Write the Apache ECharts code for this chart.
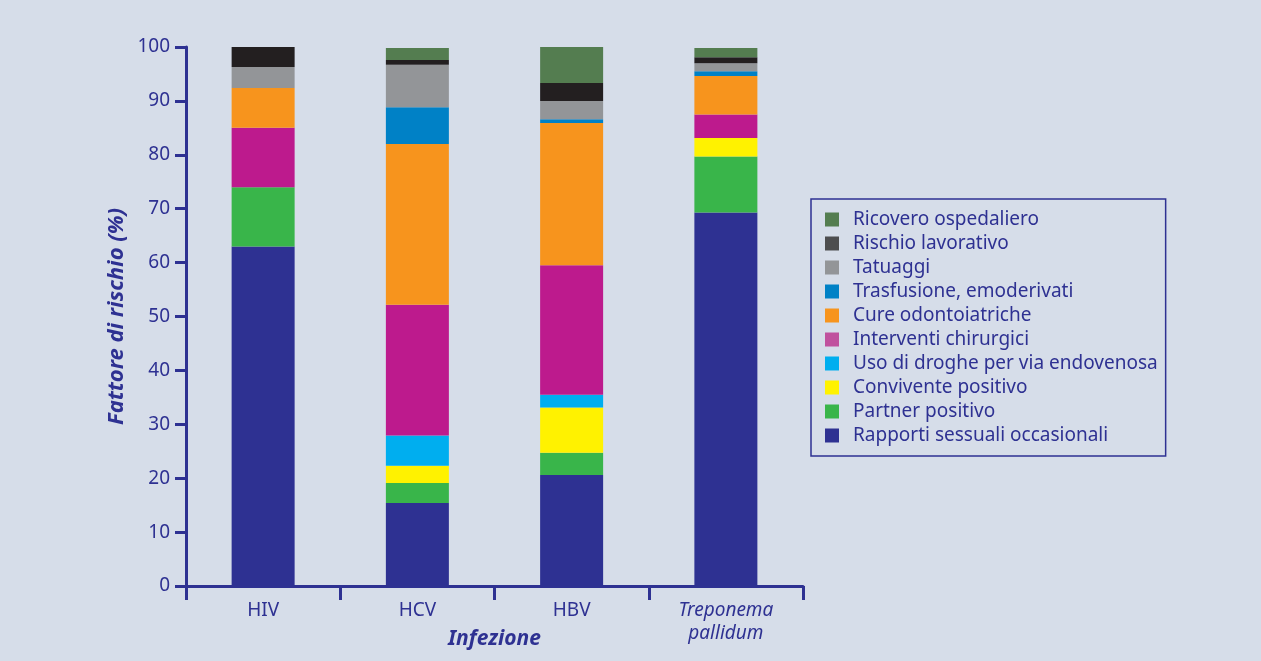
<!DOCTYPE html>
<html>
<head>
<meta charset="utf-8">
<script src="https://cdn.jsdelivr.net/npm/echarts@6/dist/echarts.min.js"></script>
<style>
  html, body { margin: 0; padding: 0; background: #d6dde9; }
  #chart { width: 1261px; height: 661px; }
</style>
</head>
<body>
<div id="chart"></div>
<script>
// Infections and their risk factors (%)
const categories = ['HIV', 'HCV', 'HBV', 'Treponema pallidum'];

const rapportiSessuali   = [63.0, 15.4, 20.6, 69.3];
const partnerPositivo    = [11.0,  3.7,  4.1, 10.4];
const conviventePositivo = [ 0.0,  3.2,  8.4,  3.4];
const drogheEndovena     = [ 0.0,  5.6,  2.4,  0.0];
const interventiChir     = [11.0, 24.3, 24.0,  4.4];
const cureOdontoiatriche = [ 7.4, 29.8, 26.4,  7.1];
const trasfusione        = [ 0.0,  6.8,  0.7,  0.9];
const tatuaggi           = [ 3.9,  7.9,  3.4,  1.5];
const rischioLavorativo  = [ 3.7,  0.9,  3.3,  1.1];
const ricoveroOspedale   = [ 0.0,  2.2,  6.7,  1.7];

const yTicks = { min: 0, max: 100, interval: 10 };

const ink = '#2e3192';

const seriesDefs = [
  { name: 'Rapporti sessuali occasionali', data: rapportiSessuali, color: '#2e3192' },
  { name: 'Partner positivo', data: partnerPositivo, color: '#39b54a' },
  { name: 'Convivente positivo', data: conviventePositivo, color: '#fff200' },
  { name: 'Uso di droghe per via endovenosa', data: drogheEndovena, color: '#00aeef' },
  { name: 'Interventi chirurgici', data: interventiChir, color: '#bd1a8d', legendColor: '#c0519e' },
  { name: 'Cure odontoiatriche', data: cureOdontoiatriche, color: '#f7941d' },
  { name: 'Trasfusione, emoderivati', data: trasfusione, color: '#0081c6' },
  { name: 'Tatuaggi', data: tatuaggi, color: '#939598' },
  { name: 'Rischio lavorativo', data: rischioLavorativo, color: '#231f20', legendColor: '#4d4d4f' },
  { name: 'Ricovero ospedaliero', data: ricoveroOspedale, color: '#547d50' }
];

const chart = echarts.init(document.getElementById('chart'), null, { renderer: 'canvas' });

chart.setOption({
  backgroundColor: '#d6dde9',
  animation: false,
  textStyle: { fontFamily: 'Noto Sans' },
  grid: { left: 186, right: 458, top: 47, bottom: 75, containLabel: false, outerBoundsMode: 'none' },
  legend: {
    orient: 'vertical',
    left: 811,
    top: 199,
    padding: [11, 8, 11, 14],
    borderColor: ink,
    borderWidth: 1.5,
    itemWidth: 14,
    itemHeight: 14,
    itemGap: 5,
    icon: 'rect',
    textStyle: { color: ink, fontSize: 19, fontFamily: 'Noto Sans', padding: [0, 0, 0, 9] },
    data: seriesDefs.slice().reverse().map(s => ({
      name: s.name,
      itemStyle: { color: s.legendColor || s.color }
    }))
  },
  xAxis: {
    type: 'category',
    data: categories,
    name: 'Infezione',
    nameLocation: 'middle',
    nameGap: 43,
    nameMoveOverlap: false,
    nameTextStyle: { color: ink, fontSize: 21, fontWeight: 'bold', fontStyle: 'italic', fontFamily: 'Noto Sans' },
    axisLine: { show: true, lineStyle: { color: ink, width: 3 } },
    axisTick: { show: true, interval: 0, alignWithLabel: false, length: 14, lineStyle: { color: ink, width: 3 } },
    axisLabel: {
      interval: 0,
      hideOverlap: false,
      color: ink,
      fontSize: 19,
      margin: 13,
      lineHeight: 23,
      formatter: v => v.indexOf(' ') > 0 ? '{i|' + v.replace(' ', '\n') + '}' : v,
      rich: { i: { fontStyle: 'italic', color: ink, fontSize: 19, lineHeight: 23, fontFamily: 'Noto Sans' } }
    }
  },
  yAxis: {
    type: 'value',
    min: yTicks.min,
    max: yTicks.max,
    interval: yTicks.interval,
    name: 'Fattore di rischio (%)',
    nameLocation: 'middle',
    nameGap: 58,
    nameRotate: 90,
    nameMoveOverlap: false,
    nameTextStyle: { color: ink, fontSize: 22, fontWeight: 'bold', fontStyle: 'italic', fontFamily: 'Noto Sans' },
    axisLine: { show: true, lineStyle: { color: ink, width: 3 } },
    axisTick: { show: true, inside: false, length: 11, lineStyle: { color: ink, width: 3 } },
    axisLabel: { color: ink, fontSize: 19, margin: 16 },
    splitLine: { show: false }
  },
  series: seriesDefs.map(s => ({
    name: s.name,
    type: 'bar',
    stack: 'totale',
    barWidth: 63,
    data: s.data,
    itemStyle: { color: s.color },
    emphasis: { disabled: true }
  }))
});
</script>
</body>
</html>
